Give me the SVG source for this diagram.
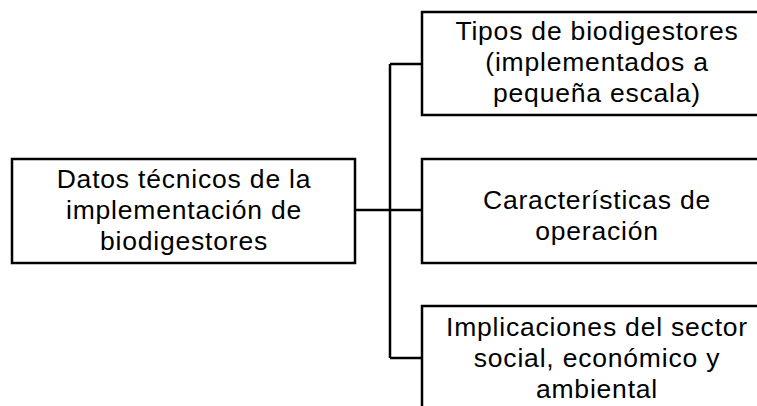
<svg xmlns="http://www.w3.org/2000/svg" width="757" height="406" viewBox="0 0 757 406">
<style>
.box{fill:#fff;stroke:#000;stroke-width:2.5}
.t{font-family:"Liberation Sans",Arial,sans-serif;font-size:26.5px;letter-spacing:0.8px;fill:#000;text-anchor:middle}
.c{fill:none;stroke:#000;stroke-width:2.5}
</style>
<rect width="757" height="406" fill="#fff"/>
<g id="connectors">
<path class="c" d="M355 210H390M390 64V358M390 64H422M390 210H422M390 358H422"/>
</g>
<g id="root">
<rect class="box" x="12" y="159" width="343" height="104"/>
<text class="t" x="184" y="188">Datos técnicos de la</text>
<text class="t" x="184" y="219">implementación de</text>
<text class="t" x="184" y="250">biodigestores</text>
</g>
<g id="n1">
<rect class="box" x="422" y="12" width="348" height="103"/>
<text class="t" x="597" y="40">Tipos de biodigestores</text>
<text class="t" x="597" y="71">(implementados a</text>
<text class="t" x="597" y="102">pequeña escala)</text>
</g>
<g id="n2">
<rect class="box" x="422" y="159" width="348" height="104"/>
<text class="t" x="597" y="209">Características de</text>
<text class="t" x="597" y="240">operación</text>
</g>
<g id="n3">
<rect class="box" x="422" y="306" width="348" height="110"/>
<text class="t" x="597" y="336">Implicaciones del sector</text>
<text class="t" x="597" y="367">social, económico y</text>
<text class="t" x="597" y="398">ambiental</text>
</g>
</svg>
